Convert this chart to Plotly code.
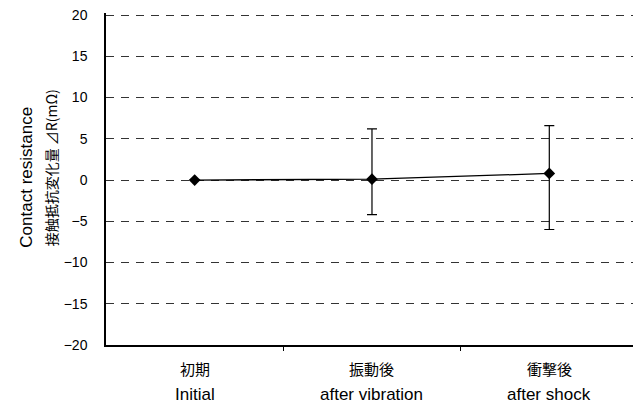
import plotly.graph_objects as go

# Test stages (Japanese / English)
stages_ja = ["初期", "振動後", "衝撃後"]
stages_en = ["Initial", "after vibration", "after shock"]

# Contact resistance change ΔR (mΩ): mean, max and min per stage
mean_dr = [0.0, 0.1, 0.8]
max_dr = [0.0, 6.2, 6.6]
min_dr = [0.0, -4.2, -6.0]

y_ticks = [-20, -15, -10, -5, 0, 5, 10, 15, 20]

x_pos = list(range(len(stages_en)))
err_plus = [hi - m for hi, m in zip(max_dr, mean_dr)]
err_minus = [m - lo for lo, m in zip(min_dr, mean_dr)]

LATIN = "Liberation Sans, Arial, sans-serif"
CJK = "Noto Sans CJK JP, sans-serif"

fig = go.Figure()
fig.add_trace(go.Scatter(
    x=x_pos,
    y=mean_dr,
    mode="lines+markers",
    line=dict(color="black", width=1.3),
    marker=dict(symbol="diamond", size=9, color="black"),
    error_y=dict(
        type="data",
        symmetric=False,
        array=err_plus,
        arrayminus=err_minus,
        color="black",
        thickness=1.2,
        width=5,
    ),
    showlegend=False,
    cliponaxis=False,
))

# Plot area spans y from -20 up to slightly above 20 so the top gridline shows
Y_TOP = 20.25
frac = lambda v: (v + 20) / (Y_TOP + 20)

annotations = []
for xi, ja, en in zip(x_pos, stages_ja, stages_en):
    annotations.append(dict(
        x=xi, y=-0.0693, xref="x", yref="paper", text=ja, showarrow=False,
        xanchor="center", yanchor="middle",
        font=dict(family=CJK, size=15, color="black"),
    ))
    annotations.append(dict(
        x=xi, y=-0.1506, xref="x", yref="paper", text=en, showarrow=False,
        xanchor="center", yanchor="middle",
        font=dict(family=LATIN, size=17, color="black"),
    ))

# Two-line y-axis title
annotations.append(dict(
    x=-0.150, y=frac(0.4), xref="paper", yref="paper", text="Contact resistance",
    showarrow=False, textangle=-90, xanchor="center", yanchor="middle",
    font=dict(family=LATIN, size=17, color="black"),
))
annotations.append(dict(
    x=-0.105, y=frac(1.5), xref="paper", yref="paper", text="接触抵抗変化量 ⊿R(mΩ)",
    showarrow=False, textangle=-90, xanchor="center", yanchor="middle",
    font=dict(family=CJK, size=14, color="black"),
))

fig.update_layout(
    width=633,
    height=409,
    margin=dict(l=106, r=0, t=13, b=64),
    paper_bgcolor="white",
    plot_bgcolor="white",
    annotations=annotations,
    xaxis=dict(
        range=[-0.5, 2.472],
        tickvals=x_pos,
        showticklabels=False,
        ticks="",
        showgrid=False,
        zeroline=False,
        showline=True,
        linecolor="black",
        linewidth=1.5,
        minor=dict(tickvals=[0.5, 1.5], ticks="outside", ticklen=4,
                   tickcolor="black", tickwidth=1, showgrid=False),
    ),
    yaxis=dict(
        range=[-20, Y_TOP],
        tickvals=y_ticks,
        ticks="",
        showgrid=True,
        gridcolor="#333333",
        gridwidth=1,
        griddash="8px,7px",
        zeroline=False,
        showline=True,
        linecolor="black",
        linewidth=1.5,
        ticklabelstandoff=14,
        tickfont=dict(family=LATIN, size=14, color="black"),
    ),
)

fig.write_html("out.html")
